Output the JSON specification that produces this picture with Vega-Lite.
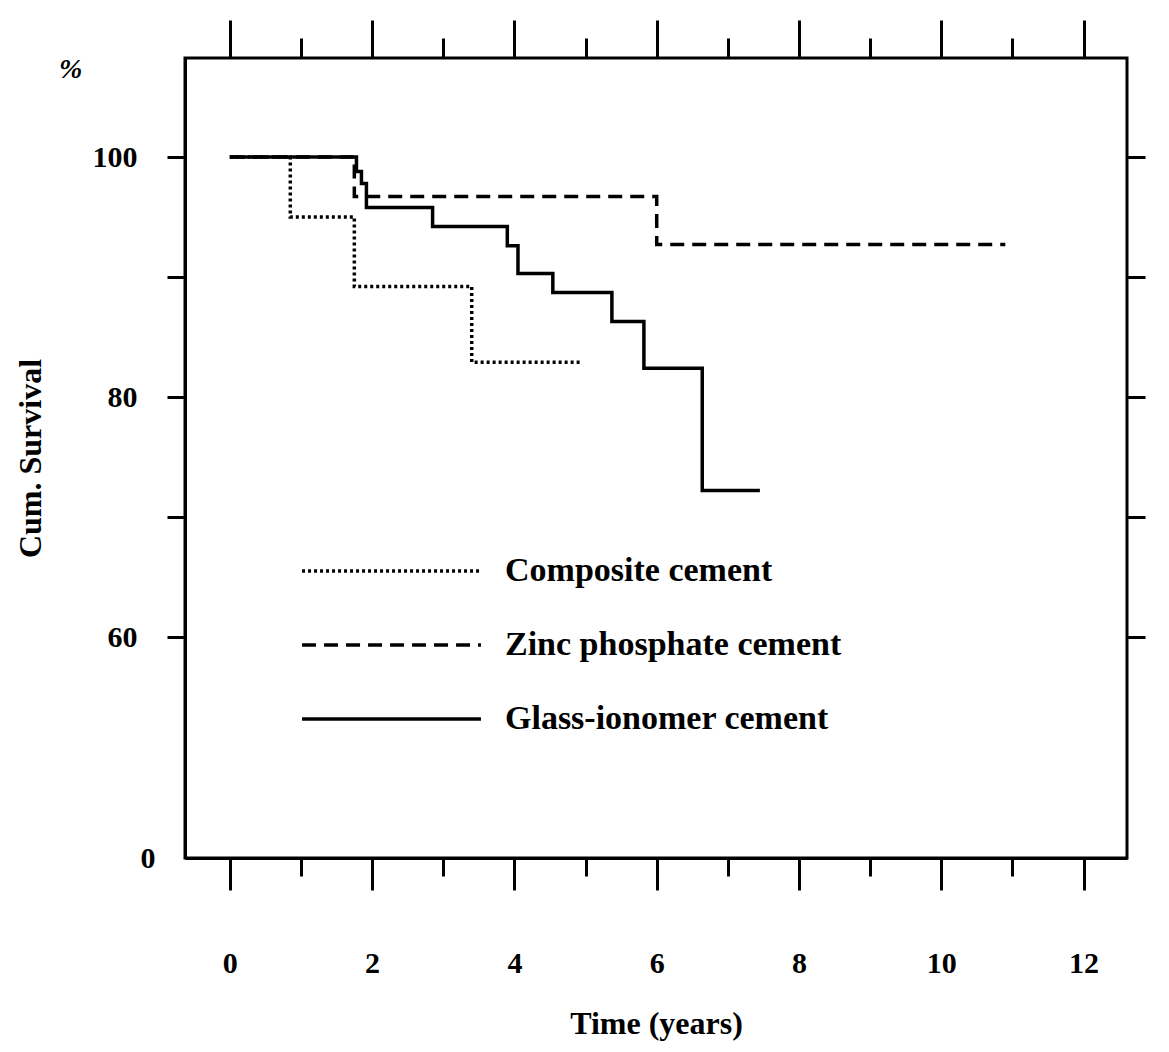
{
  "$schema": "https://vega.github.io/schema/vega-lite/v6.json",
  "width": 942,
  "height": 800,
  "autosize": {"type": "none"},
  "padding": {"left": 185, "top": 58, "right": 42, "bottom": 194},
  "background": "white",
  "title": {"text": "%", "anchor": "start", "dx": 45, "offset": -65, "font": "Liberation Serif", "fontStyle": "italic", "fontWeight": "bold", "fontSize": 28, "orient": "top"},
  "config": {
    "view": {"stroke": "black", "strokeWidth": 3},
    "axis": {"labelFont": "Liberation Serif", "titleFont": "Liberation Serif", "labelFontWeight": "bold", "titleFontWeight": "bold", "labelFontSize": 30, "titleFontSize": 32, "labelColor": "black", "titleColor": "black", "tickColor": "black", "domainColor": "black", "tickWidth": 3, "domainWidth": 3, "grid": false}
  },
  "data": {"values": [
    {"series": "Composite cement", "t": 0, "s": 100},
    {"series": "Composite cement", "t": 0.85, "s": 95},
    {"series": "Composite cement", "t": 1.75, "s": 89.2},
    {"series": "Composite cement", "t": 3.4, "s": 82.9},
    {"series": "Composite cement", "t": 4.92, "s": 82.9},
    {"series": "Zinc phosphate cement", "t": 0, "s": 100},
    {"series": "Zinc phosphate cement", "t": 1.75, "s": 96.7},
    {"series": "Zinc phosphate cement", "t": 6.0, "s": 92.7},
    {"series": "Zinc phosphate cement", "t": 10.9, "s": 92.7},
    {"series": "Glass-ionomer cement", "t": 0, "s": 100},
    {"series": "Glass-ionomer cement", "t": 1.78, "s": 98.8},
    {"series": "Glass-ionomer cement", "t": 1.85, "s": 97.8},
    {"series": "Glass-ionomer cement", "t": 1.92, "s": 95.8},
    {"series": "Glass-ionomer cement", "t": 2.85, "s": 94.2},
    {"series": "Glass-ionomer cement", "t": 3.9, "s": 92.6},
    {"series": "Glass-ionomer cement", "t": 4.05, "s": 90.3},
    {"series": "Glass-ionomer cement", "t": 4.54, "s": 88.7},
    {"series": "Glass-ionomer cement", "t": 5.37, "s": 86.3},
    {"series": "Glass-ionomer cement", "t": 5.82, "s": 82.4},
    {"series": "Glass-ionomer cement", "t": 6.64, "s": 72.2},
    {"series": "Glass-ionomer cement", "t": 7.45, "s": 72.2}
  ]},
  "layer": [
    {
      "mark": {"type": "line", "interpolate": "step-after", "color": "black", "strokeWidth": 3.5},
      "encoding": {
        "x": {"field": "t", "type": "quantitative",
          "scale": {"domain": [-0.63, 12.61], "nice": false, "zero": false},
          "axis": {"values": [0,1,2,3,4,5,6,7,8,9,10,11,12], "title": "Time (years)", "titlePadding": 30,
            "labelExpr": "datum.value % 2 === 0 ? datum.label : ''", "labelPadding": 58,
            "tickSize": {"condition": {"test": "datum.value % 2 === 0", "value": 32}, "value": 18}}},
        "y": {"field": "s", "type": "quantitative",
          "scale": {"type": "linear", "domain": [0, 50, 108.25], "range": [800, 699, 0], "nice": false, "zero": false},
          "axis": {"values": [0, 60, 70, 80, 90, 100], "title": "Cum. Survival", "titlePadding": 45,
            "labelExpr": "datum.value % 20 === 0 || datum.value === 0 ? datum.label : ''", "labelPadding": 30,
            "tickSize": {"condition": {"test": "datum.value === 0", "value": 0}, "value": 18}}},
        "strokeDash": {"field": "series", "type": "nominal",
          "scale": {"domain": ["Composite cement", "Zinc phosphate cement", "Glass-ionomer cement"], "range": [[3, 3], [14, 8], [1, 0]]},
          "legend": {"orient": "none", "legendX": 115, "legendY": 495, "title": null, "symbolType": "stroke", "symbolSize": 32000, "symbolStrokeWidth": 3.5, "symbolStrokeColor": "black", "clipHeight": 36,
            "labelFont": "Liberation Serif", "labelFontWeight": "bold", "labelFontSize": 34, "labelColor": "black", "labelLimit": 600, "rowPadding": 38, "labelOffset": 22}}
      }
    },
    {
      "mark": {"type": "line", "opacity": 0},
      "encoding": {
        "x": {"field": "t", "type": "quantitative",
          "axis": {"orient": "top", "values": [0,1,2,3,4,5,6,7,8,9,10,11,12], "title": null, "labels": false, "domain": false,
            "tickSize": {"condition": {"test": "datum.value % 2 === 0", "value": 38}, "value": 20}}},
        "y": {"field": "s", "type": "quantitative",
          "axis": {"orient": "right", "values": [60, 70, 80, 90, 100], "title": null, "labels": false, "domain": false, "tickSize": 18}}
      }
    }
  ],
  "resolve": {"axis": {"x": "independent", "y": "independent"}}
}
